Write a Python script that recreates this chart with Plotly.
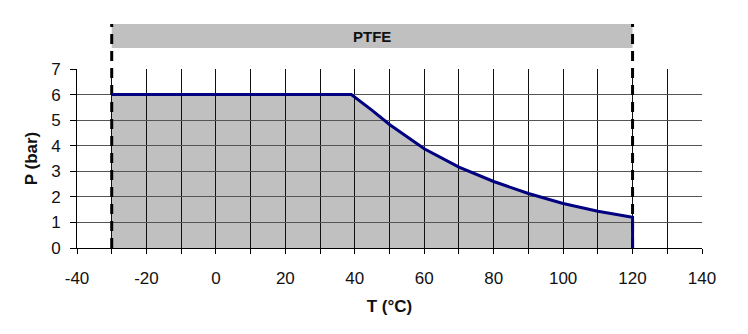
import plotly.graph_objects as go

# ---- data ----
T = [-30, 39, 45, 50, 60, 70, 80, 90, 100, 110, 120, 120]
P = [6, 6, 5.38, 4.83, 3.88, 3.16, 2.6, 2.13, 1.74, 1.44, 1.2, 0]
X_RANGE = [-40, 140]
Y_RANGE = [0, 7]
X_TICKS = [-40, -20, 0, 20, 40, 60, 80, 100, 120, 140]
X_TICK_LABELS = ["-40", "-20", "0", "20", "40", "60", "80", "100", "120", "140"]
Y_TICKS = [0, 1, 2, 3, 4, 5, 6, 7]
X_GRID = list(range(-30, 131, 10))
Y_GRID = list(range(1, 7))
LIMITS = [-30, 120]
BAND_LABEL = "PTFE"
X_TITLE = "T (°C)"
Y_TITLE = "P (bar)"

# ---- layout geometry (page body adds an 8px offset) ----
W, H = 732, 318
ML, MR, MT, MB = 69, 38, 16, 78
PLOT_H = 179                      # pixel height of the P axis
TOTAL_H = H - MT - MB             # 224
DOM_TOP = PLOT_H / TOTAL_H
PX_PER_UNIT = PLOT_H / (Y_RANGE[1] - Y_RANGE[0])
Y_EXT = Y_RANGE[1] / DOM_TOP      # value at the top of the extended subplot
BAND_LO = Y_RANGE[1] + 21 / PX_PER_UNIT
BAND_HI = Y_EXT

FONT = "Liberation Sans, Arial, sans-serif"
FILL = "#c0c0c0"
LINE = "#000080"

fig = go.Figure()

# subplot 1: grey area (bottom layer) + labelled axes
fig.add_trace(go.Scatter(x=T, y=P, mode="lines", fill="tozeroy",
                         fillcolor=FILL, line=dict(width=0, color=FILL),
                         xaxis="x", yaxis="y", showlegend=False, hoverinfo="skip"))
# subplot 2: grid on top of the grey area
fig.add_trace(go.Scatter(x=[], y=[], xaxis="x2", yaxis="y2", showlegend=False))
# subplot 3 (extended upward): limits, band and the curve
fig.add_trace(go.Scatter(x=T, y=P, mode="lines", line=dict(color=LINE, width=3),
                         xaxis="x3", yaxis="y3", showlegend=False))

common_hidden = dict(showgrid=False, zeroline=False, showticklabels=False,
                     ticks="", showline=False, automargin=False)

fig.update_layout(
    width=W, height=H,
    margin=dict(l=ML, r=MR, t=MT, b=MB, pad=0, autoexpand=False),
    paper_bgcolor="white",
    plot_bgcolor="rgba(0,0,0,0)",
    font=dict(family=FONT, size=17, color="#111111"),
    xaxis=dict(domain=[0, 1], range=X_RANGE, anchor="y", automargin=False,
               tickmode="array", tickvals=X_TICKS, ticktext=X_TICK_LABELS,
               ticks="outside", ticklen=5, tickcolor="black",
               minor=dict(dtick=10, tick0=0, ticks="outside", ticklen=5,
                          tickcolor="black", showgrid=False),
               showline=True, linecolor="black", linewidth=1,
               showgrid=False, zeroline=False,
               ticklabelstandoff=10,
               title=dict(text=X_TITLE, font=dict(size=17, family=FONT, weight="bold"),
                          standoff=12)),
    yaxis=dict(domain=[0, DOM_TOP], range=Y_RANGE, anchor="x", automargin=False,
               tickmode="array", tickvals=Y_TICKS,
               ticks="outside", ticklen=6, tickcolor="black",
               showline=True, linecolor="black", linewidth=1,
               showgrid=False, zeroline=False,
               ticklabelstandoff=6,
               title=dict(text=Y_TITLE, font=dict(size=17, family=FONT, weight="bold"),
                          standoff=9)),
    xaxis2=dict(domain=[0, 1], range=X_RANGE, anchor="y2", automargin=False,
                tickmode="array", tickvals=X_GRID,
                showgrid=True, gridcolor="#111111", gridwidth=1,
                zeroline=False, showticklabels=False, ticks="", showline=False),
    yaxis2=dict(domain=[0, DOM_TOP], range=Y_RANGE, anchor="x2", automargin=False,
                tickmode="array", tickvals=Y_GRID,
                showgrid=True, gridcolor="#555555", gridwidth=1,
                zeroline=False, showticklabels=False, ticks="", showline=False),
    xaxis3=dict(domain=[0, 1], range=X_RANGE, anchor="y3", **common_hidden),
    yaxis3=dict(domain=[0, 1], range=[0, Y_EXT], anchor="x3", **common_hidden),
)

# grey band above the plot
fig.add_shape(type="rect", xref="x3", yref="y3", layer="between",
              x0=LIMITS[0], x1=LIMITS[1], y0=BAND_LO, y1=BAND_HI,
              fillcolor=FILL, line=dict(width=0))
# dashed limit lines
for lim in LIMITS:
    fig.add_shape(type="line", xref="x3", yref="y3", layer="between",
                  x0=lim, x1=lim, y0=0, y1=BAND_HI,
                  line=dict(color="black", width=3, dash="10px,7px"))

fig.add_annotation(x=sum(LIMITS) / 2, y=(BAND_LO + BAND_HI) / 2,
                   xref="x3", yref="y3", text="<b>" + BAND_LABEL + "</b>",
                   showarrow=False, font=dict(size=15, family=FONT, color="#111111"))

fig.write_html("out.html")
